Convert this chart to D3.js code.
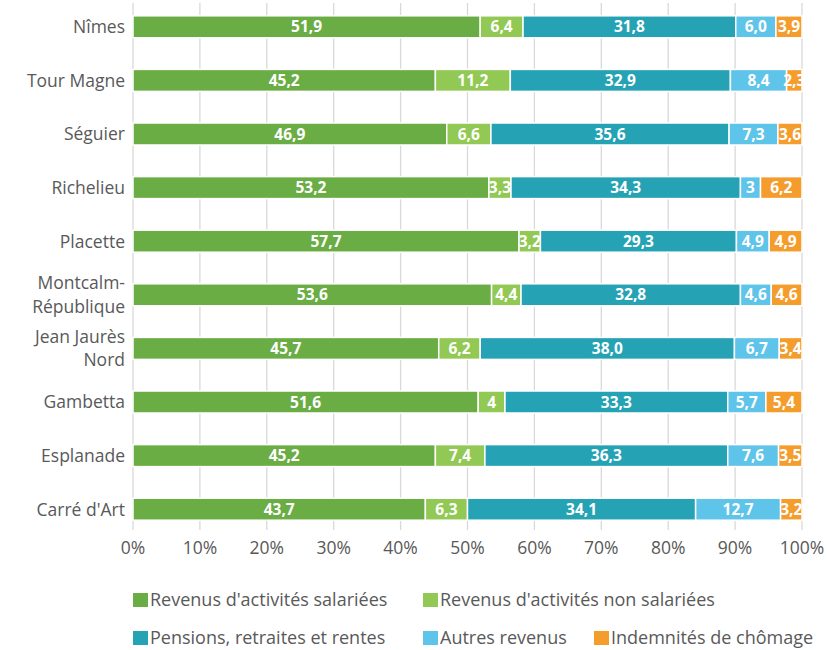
<!DOCTYPE html>
<html>
<head>
<meta charset="utf-8">
<script src="https://cdn.jsdelivr.net/npm/d3@7"></script>
<style>
  body { margin: 0; background: #fff; }
  text { font-family: "Open Sans", sans-serif; }
</style>
</head>
<body>
<div id="chart"></div>
<script>
// Quartiers (top to bottom)
const quartiers = ["Nîmes", "Tour Magne", "Séguier", "Richelieu", "Placette",
  "Montcalm-République", "Jean Jaurès Nord", "Gambetta", "Esplanade", "Carré d'Art"];

// label lines for the y axis
const quartierLines = [["Nîmes"], ["Tour Magne"], ["Séguier"], ["Richelieu"], ["Placette"],
  ["Montcalm-", "République"], ["Jean Jaurès", "Nord"], ["Gambetta"], ["Esplanade"], ["Carré d'Art"]];

// values as printed on the chart (%)
const salariees    = ["51,9", "45,2", "46,9", "53,2", "57,7", "53,6", "45,7", "51,6", "45,2", "43,7"];
const nonSalariees = ["6,4", "11,2", "6,6", "3,3", "3,2", "4,4", "6,2", "4", "7,4", "6,3"];
const pensions     = ["31,8", "32,9", "35,6", "34,3", "29,3", "32,8", "38,0", "33,3", "36,3", "34,1"];
const autres       = ["6,0", "8,4", "7,3", "3", "4,9", "4,6", "6,7", "5,7", "7,6", "12,7"];
const chomage      = ["3,9", "2,3", "3,6", "6,2", "4,9", "4,6", "3,4", "5,4", "3,5", "3,2"];

const seriesNames = ["Revenus d'activités salariées", "Revenus d'activités non salariées",
  "Pensions, retraites et rentes", "Autres revenus", "Indemnités de chômage"];
const seriesColors = ["#6aad45", "#92c954", "#25a3b5", "#5ec4e9", "#f59d2c"];
const seriesData = [salariees, nonSalariees, pensions, autres, chomage];

const xTicks = [0, 10, 20, 30, 40, 50, 60, 70, 80, 90, 100];

const width = 827, height = 650;
const svg = d3.select("#chart").append("svg")
  .attr("width", width).attr("height", height);

const x = d3.scaleLinear().domain([0, 100]).range([133, 802]);
const y = d3.scaleBand().domain(quartiers).range([0, 536])
  .paddingInner(0.59).paddingOuter(0.295);

const toNum = s => +s.replace(",", ".");

// gridlines
svg.append("g").selectAll("line")
  .data(xTicks).enter().append("line")
  .attr("x1", d => x(d)).attr("x2", d => x(d))
  .attr("y1", 3).attr("y2", 530)
  .attr("stroke", "#d9d9d9").attr("stroke-width", 1.3);

// tick labels
svg.append("g").selectAll("text")
  .data(xTicks).enter().append("text")
  .attr("x", d => x(d)).attr("y", 554)
  .attr("text-anchor", "middle")
  .attr("font-size", 17.5).attr("fill", "#595959")
  .text(d => d + "%");

// build stacked rows
const rows = quartiers.map((q, i) => {
  let acc = 0;
  return seriesData.map((s, k) => {
    const v = toNum(s[i]);
    const seg = { q, k, label: s[i], x0: acc, x1: acc + v };
    acc += v;
    return seg;
  });
}).flat();

const seg = svg.append("g").selectAll("g")
  .data(rows).enter().append("g");

seg.append("rect")
  .attr("x", d => x(d.x0)).attr("width", d => x(d.x1) - x(d.x0))
  .attr("y", d => y(d.q)).attr("height", y.bandwidth())
  .attr("fill", d => seriesColors[d.k])
  .attr("stroke", "#fff").attr("stroke-width", 1.5);

seg.append("text")
  .attr("x", d => (x(d.x0) + x(d.x1)) / 2)
  .attr("y", d => y(d.q) + y.bandwidth() / 2)
  .attr("dy", "0.36em")
  .attr("text-anchor", "middle")
  .attr("font-size", 15.5).attr("font-weight", "bold").attr("fill", "#fff")
  .text(d => d.label);

// category labels
const cat = svg.append("g").selectAll("text")
  .data(quartiers).enter().append("text")
  .attr("x", 125)
  .attr("y", d => y(d) + y.bandwidth() / 2)
  .attr("text-anchor", "end")
  .attr("font-size", 17.5).attr("fill", "#595959");

cat.each(function(d, i) {
  const lines = quartierLines[i];
  const t = d3.select(this);
  lines.forEach((l, j) => {
    t.append("tspan")
      .attr("x", 125)
      .attr("dy", j === 0 ? (0.36 - (lines.length - 1) * 0.67) + "em" : "1.34em")
      .text(l);
  });
});

// legend
const legendPos = [[133, 600], [423, 600], [133, 638], [423, 638], [594, 638]];
const leg = svg.append("g").selectAll("g")
  .data(seriesNames).enter().append("g")
  .attr("transform", (d, i) => `translate(${legendPos[i][0]},${legendPos[i][1]})`);

leg.append("rect")
  .attr("x", 0).attr("y", -7).attr("width", 15).attr("height", 14)
  .attr("fill", (d, i) => seriesColors[i]);

leg.append("text")
  .attr("x", 17).attr("y", 0).attr("dy", "0.36em")
  .attr("font-size", 18).attr("fill", "#595959")
  .text(d => d);
</script>
</body>
</html>
